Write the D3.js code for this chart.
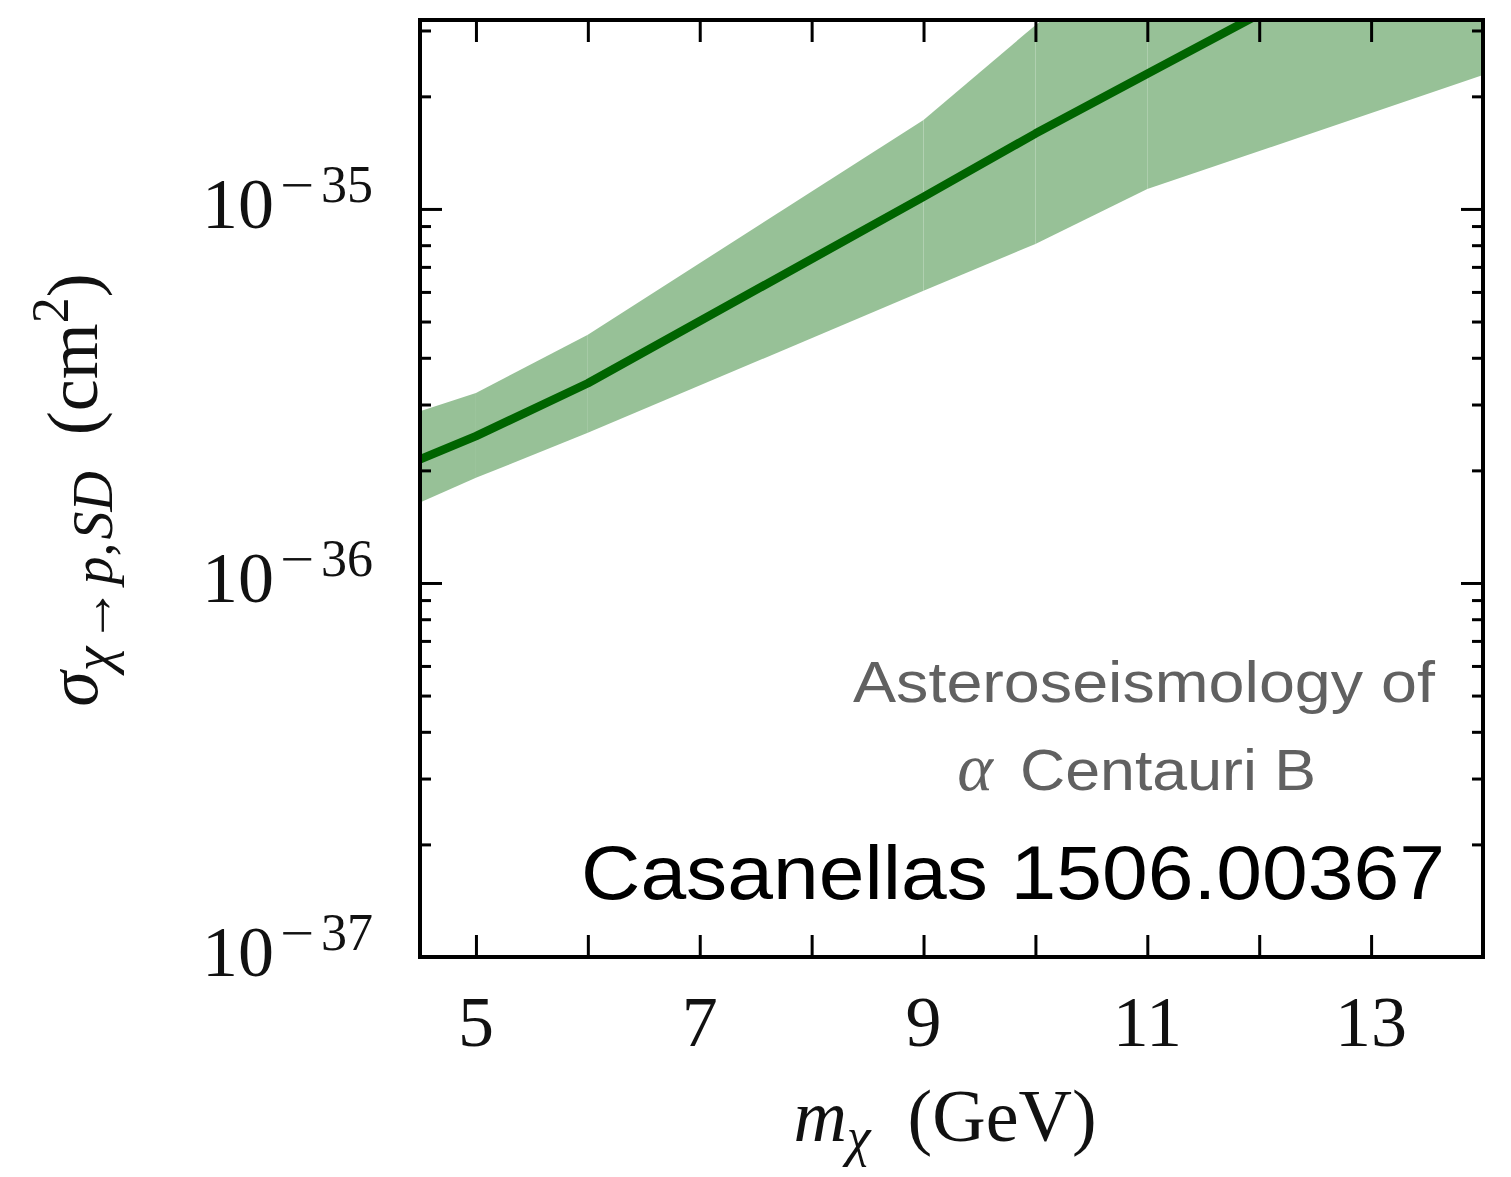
<!DOCTYPE html>
<html>
<head>
<meta charset="utf-8">
<script src="https://cdn.jsdelivr.net/npm/d3@7"></script>
<style>
  html, body { margin: 0; padding: 0; background: #fff; }
  svg { display: block; }
</style>
</head>
<body>
<svg id="chart" width="1511" height="1177"></svg>
<script>
// Dark-matter mass grid (GeV) at which the bound was evaluated
const massGeV = [4.5, 5, 6, 9, 10, 11, 14];
// Best-fit spin-dependent cross section (cm^2)
const sigmaBest = [2.14e-36, 2.47e-36, 3.42e-36, 1.077e-35, 1.59e-35, 2.30e-35, 6.9e-35];
// Upper and lower edges of the uncertainty band (cm^2)
const sigmaUpper = [2.88e-36, 3.22e-36, 4.61e-36, 1.73e-35, 3.10e-35, 5.4e-35, 1.5e-34];
const sigmaLower = [1.64e-36, 1.91e-36, 2.52e-36, 6.04e-36, 8.06e-36, 1.13e-35, 2.28e-35];

// Axis ticks
const xTicks = [5, 6, 7, 8, 9, 10, 11, 12, 13];
const xTickLabels = [5, 7, 9, 11, 13];
const yMajorExps = [-37, -36, -35];

const svg = d3.select("#chart");
const L = 420, R = 1483, T = 20, B = 957;

const x = d3.scaleLinear().domain([4.5, 14]).range([L, R]);
const y = d3.scaleLog().domain([1e-37, 3.2e-35]).range([B, T]);

svg.append("defs").append("clipPath").attr("id", "plotClip")
  .append("rect").attr("x", L).attr("y", T).attr("width", R - L).attr("height", B - T);

const plot = svg.append("g").attr("clip-path", "url(#plotClip)");

// Band drawn piece by piece between neighbouring mass points
const rows = massGeV.map((m, i) => ({ m, lo: sigmaLower[i], hi: sigmaUpper[i], best: sigmaBest[i] }));
const band = d3.area().x(d => x(d.m)).y0(d => y(d.lo)).y1(d => y(d.hi));
for (let i = 0; i < rows.length - 1; i++) {
  plot.append("path")
    .attr("d", band([rows[i], rows[i + 1]]))
    .attr("fill", "rgb(151,193,151)");
}

plot.append("path")
  .attr("d", d3.line().x(d => x(d.m)).y(d => y(d.best))(rows))
  .attr("fill", "none")
  .attr("stroke", "#006400")
  .attr("stroke-width", 8.5)
  .attr("stroke-linejoin", "round");

// Ticks on all four sides, pointing inward
const minorVals = [];
yMajorExps.forEach(e => { for (let k = 2; k <= 9; k++) { const v = k * Math.pow(10, e); if (v <= 3.2e-35) minorVals.push(v); } });
const majorVals = yMajorExps.map(e => Math.pow(10, e));

function styleAxis(g) {
  g.select(".domain").remove();
  g.selectAll(".tick line").attr("stroke", "#000").attr("stroke-width", 3);
  g.selectAll(".tick text").remove();
}

svg.append("g").attr("transform", `translate(${L},0)`)
  .call(d3.axisLeft(y).tickValues(minorVals).tickSize(-11).tickFormat("")).call(styleAxis);
svg.append("g").attr("transform", `translate(${L},0)`)
  .call(d3.axisLeft(y).tickValues(majorVals).tickSize(-22).tickFormat("")).call(styleAxis);
svg.append("g").attr("transform", `translate(${R},0)`)
  .call(d3.axisRight(y).tickValues(minorVals).tickSize(-11).tickFormat("")).call(styleAxis);
svg.append("g").attr("transform", `translate(${R},0)`)
  .call(d3.axisRight(y).tickValues(majorVals).tickSize(-22).tickFormat("")).call(styleAxis);
svg.append("g").attr("transform", `translate(0,${B})`)
  .call(d3.axisBottom(x).tickValues(xTicks).tickSize(-22).tickFormat("")).call(styleAxis);
svg.append("g").attr("transform", `translate(0,${T})`)
  .call(d3.axisTop(x).tickValues(xTicks).tickSize(-22).tickFormat("")).call(styleAxis);

// Frame
svg.append("rect").attr("x", L).attr("y", T).attr("width", R - L).attr("height", B - T)
  .attr("fill", "none").attr("stroke", "#000").attr("stroke-width", 4);

const serif = "'Liberation Serif', 'DejaVu Serif', serif";
const sans = "'Liberation Sans', Arial, Helvetica, sans-serif";

// Y tick labels: 10^{exp}, with a wide math minus in the exponent
yMajorExps.forEach(e => {
  const ty = y(Math.pow(10, e));
  svg.append("text")
    .attr("x", 274).attr("y", ty + 19)
    .attr("text-anchor", "end")
    .attr("font-family", serif).attr("font-size", 72).attr("fill", "#111")
    .text("10");
  svg.append("text")
    .attr("x", 280).attr("y", ty - 7)
    .attr("font-family", serif).attr("font-size", 50).attr("fill", "#111")
    .attr("textLength", 34).attr("lengthAdjust", "spacingAndGlyphs")
    .text("\u2212");
  svg.append("text")
    .attr("x", 373).attr("y", ty - 7)
    .attr("text-anchor", "end")
    .attr("font-family", serif).attr("font-size", 52).attr("fill", "#111")
    .text(Math.abs(e));
});

// X tick labels
svg.append("g").selectAll("text").data(xTickLabels).join("text")
  .attr("x", d => x(d)).attr("y", 1046)
  .attr("text-anchor", "middle")
  .attr("font-family", serif).attr("font-size", 72).attr("fill", "#111")
  .text(d => d);

// X axis title
const xt = svg.append("text").attr("x", 945).attr("y", 1141).attr("text-anchor", "middle")
  .attr("font-family", serif).attr("font-size", 74).attr("fill", "#111");
xt.append("tspan").attr("font-style", "italic").text("m");
xt.append("tspan").attr("font-style", "italic").attr("font-size", 54).attr("dy", 14).text("\u03c7");
xt.append("tspan").attr("dy", -14).text("\u2002(GeV)");

// Y axis title
const yt = svg.append("text").attr("transform", "translate(97,490) rotate(-90)")
  .attr("text-anchor", "middle")
  .attr("font-family", serif).attr("font-size", 72).attr("fill", "#111");
yt.append("tspan").attr("font-style", "italic").text("\u03c3");
const sub = yt.append("tspan").attr("font-size", 56).attr("dy", 15);
sub.append("tspan").attr("font-style", "italic").text("\u03c7");
sub.append("tspan").attr("dx", 3).text("\u2192");
sub.append("tspan").attr("dx", 3).attr("font-style", "italic").text("p");
sub.append("tspan").text(",");
sub.append("tspan").attr("dx", 3).attr("font-style", "italic").text("SD");
yt.append("tspan").attr("dy", -15).text("\u2002(cm");
yt.append("tspan").attr("font-size", 52).attr("dy", -29).text("2");
yt.append("tspan").attr("dy", 29).text(")");

// Annotations
svg.append("text").attr("x", 1435).attr("y", 702).attr("text-anchor", "end")
  .attr("font-family", sans).attr("font-size", 58).attr("fill", "#616161")
  .attr("textLength", 582).attr("lengthAdjust", "spacingAndGlyphs")
  .text("Asteroseismology of");
svg.append("text").attr("x", 975).attr("y", 790).attr("text-anchor", "middle")
  .attr("font-family", serif).attr("font-style", "italic").attr("font-size", 68).attr("fill", "#616161")
  .text("\u03b1");
svg.append("text").attr("x", 1316).attr("y", 790).attr("text-anchor", "end")
  .attr("font-family", sans).attr("font-size", 58).attr("fill", "#616161")
  .attr("textLength", 296).attr("lengthAdjust", "spacingAndGlyphs")
  .text("Centauri B");
svg.append("text").attr("x", 1445).attr("y", 899).attr("text-anchor", "end")
  .attr("font-family", sans).attr("font-size", 76).attr("fill", "#000")
  .attr("textLength", 864).attr("lengthAdjust", "spacingAndGlyphs")
  .text("Casanellas 1506.00367");
</script>
</body>
</html>
